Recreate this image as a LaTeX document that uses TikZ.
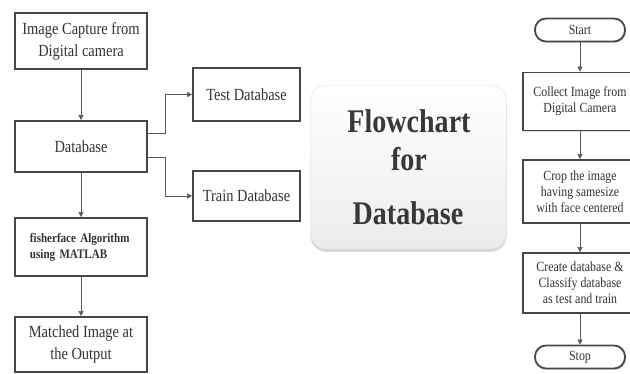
\documentclass[tikz,border=0pt]{standalone}
\usepackage{fontspec}
\setmainfont{Liberation Serif}[FakeStretch=0.85]
\usetikzlibrary{arrows.meta,shadows}
\tikzset{
 box/.style={draw=black!72, line width=1.8pt, fill=white, text=black!80, align=center, inner sep=2pt,
   font=\fontsize{17}{22}\selectfont,
   drop shadow={opacity=0.3, shadow xshift=1pt, shadow yshift=-1.2pt}},
 rbox/.style={box, minimum width=114, font=\fontsize{14}{16}\selectfont},
 term/.style={rbox, minimum width=90, minimum height=23, rounded corners=11pt},
 arr/.style={draw=black!65, line width=0.6pt, -{Triangle[length=5pt,width=5pt]}},
 title/.style={font=\fontsize{33}{33}\selectfont\bfseries, text=black!78, anchor=base, inner sep=0}
}
\begin{document}
\begin{tikzpicture}[x=1pt,y=-1pt]
\useasboundingbox (0,0) rectangle (630,374);
\clip (0,0) rectangle (630,374);
% left column
\node[box, minimum width=132, minimum height=56] (cap) at (81,41) {Image Capture from\\Digital camera};
\node[box, minimum width=132, minimum height=51] (db) at (81,146.5) {Database};
\node[box, minimum width=132, minimum height=50, text width=102, inner sep=15, align=left,
  font=\fontsize{13}{16}\selectfont\bfseries] (fish) at (81,247) {fisherface Algorithm\\using MATLAB};
\node[box, minimum width=132, minimum height=55] (match) at (81,344.5) {Matched Image at\\the Output};
\node[box, minimum width=107, minimum height=53] (test) at (246.5,94.5) {Test Database};
\node[box, minimum width=107, minimum height=50] (train) at (246.5,196) {Train Database};
\draw[arr] (cap) -- (db);
\draw[arr] ([yshift=13pt]db.east) -- ++(17,0) |- (test);
\draw[arr] ([yshift=-11pt]db.east) -- ++(17,0) |- (train);
\draw[arr] (db) -- (fish);
\draw[arr] (fish) -- (match);
% title
\node[draw=gray!25, rounded corners=16pt, minimum width=196, minimum height=164,
  top color=white, middle color=white, bottom color=gray!15,
  drop shadow={opacity=0.3, shadow xshift=0pt, shadow yshift=-3pt}] (head) at (408.5,167) {};
\node[title] (flow) at (409,133) {Flowchart};
\node[title] (for) at (409,171) {for};
\node[title] (dbase) at (408,225) {Database};
% right column
\node[term] (start) at (580,30) {Start};
\node[rbox, minimum height=58] (collect) at (580,101.5) {Collect Image from\\Digital Camera};
\node[rbox, minimum height=63] (crop) at (580,191.5) {Crop the image\\having samesize\\with face centered};
\node[rbox, minimum height=60] (create) at (580,283) {Create database \&\\Classify database\\as test and train};
\node[term] (stop) at (580,357) {Stop};
\draw[arr] (start) -- (collect);
\draw[arr] (collect) -- (crop);
\draw[arr] (crop) -- (create);
\draw[arr] (create) -- (stop);
\end{tikzpicture}
\end{document}
